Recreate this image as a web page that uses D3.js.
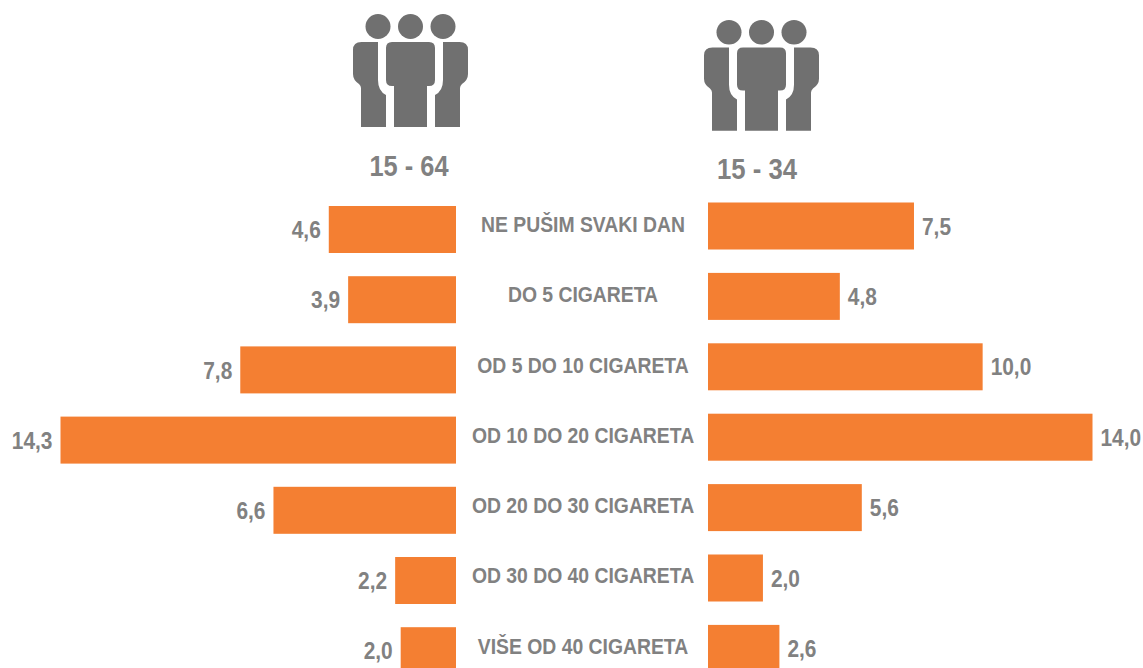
<!DOCTYPE html>
<html>
<head>
<meta charset="utf-8">
<script src="https://cdn.jsdelivr.net/npm/d3@7"></script>
<style>
html, body { margin: 0; padding: 0; background: #fff; overflow: hidden; }
text { font-family: "Liberation Sans", Arial, sans-serif; font-weight: bold; fill: #818181; }
</style>
</head>
<body>
<div id="chart"></div>
<script>
var categories = ['NE PUŠIM SVAKI DAN', 'DO 5 CIGARETA', 'OD 5 DO 10 CIGARETA', 'OD 10 DO 20 CIGARETA',
    'OD 20 DO 30 CIGARETA', 'OD 30 DO 40 CIGARETA', 'VIŠE OD 40 CIGARETA'];
var older = [4.6, 3.9, 7.8, 14.3, 6.6, 2.2, 2.0];
var younger = [7.5, 4.8, 10.0, 14.0, 5.6, 2.0, 2.6];
var olderTitle = '15 - 64';
var youngerTitle = '15 - 34';

var width = 1143, height = 668;
var orange = '#f47f32', iconGrey = '#707070';
var barH = 47;

var svg = d3.select('#chart').append('svg')
    .attr('width', width)
    .attr('height', height)
    .style('display', 'block');

var fmt = function(v) { return v.toFixed(1).replace('.', ','); };

function bandFrom(top, step) {
    var pad = 1 - barH / step;
    return d3.scaleBand().domain(categories)
        .range([top, top + step * (categories.length - pad)])
        .paddingInner(pad).paddingOuter(0).align(0);
}

var leftX = d3.scaleLinear().domain([0, 14.3]).range([456, 60.5]);
var rightX = d3.scaleLinear().domain([0, 14]).range([708, 1092.5]);
var leftY = bandFrom(206, 70.2);
var rightY = bandFrom(202.5, 70.4);
var labelY = d3.scalePoint().domain(categories).range([224, 645.5]);

// one bar column plus its value labels
function drawSide(values, x, y, isLeft) {
    var g = svg.append('g');
    g.selectAll('rect').data(values).enter().append('rect')
        .attr('x', function(d) { return isLeft ? x(d) : x(0); })
        .attr('y', function(d, i) { return y(categories[i]); })
        .attr('width', function(d) { return Math.abs(x(d) - x(0)); })
        .attr('height', y.bandwidth())
        .attr('fill', orange);
    g.selectAll('text').data(values).enter().append('text')
        .attr('x', function(d) { return isLeft ? x(d) - 8 : x(d) + 8; })
        .attr('y', function(d, i) { return y(categories[i]) + y.bandwidth() / 2; })
        .attr('dy', '0.36em')
        .attr('text-anchor', isLeft ? 'end' : 'start')
        .attr('font-size', 24)
        .attr('lengthAdjust', 'spacingAndGlyphs')
        .text(fmt)
        .attr('textLength', function() { return this.getComputedTextLength() * 0.87; });
}

drawSide(older, leftX, leftY, true);
drawSide(younger, rightX, rightY, false);

svg.append('g').selectAll('text').data(categories).enter().append('text')
    .attr('x', 583)
    .attr('y', function(d) { return labelY(d); })
    .attr('dy', '0.36em')
    .attr('text-anchor', 'middle')
    .attr('font-size', 22.5)
    .attr('lengthAdjust', 'spacingAndGlyphs')
    .text(function(d) { return d; })
    .attr('textLength', function() { return this.getComputedTextLength() * 0.86; });

// three people, drawn around the middle of the icon
var bodyMid = 'M-18.5,42 H18.5 Q24.5,42 24.5,48 V80 Q24.5,86 18.5,86 H16.5 V127 H-16.5 V86 H-18.5 Q-24.5,86 -24.5,80 V48 Q-24.5,42 -18.5,42 Z';
var bodyLeft = 'M-57.5,50 Q-57.5,42 -49,42 H-32.5 V80 Q-32.5,91 -24.5,95 V127 H-49.5 V88 Q-49.5,86 -51.5,84 Q-57.5,80 -57.5,74 Z';
var bodyRight = 'M57.5,50 Q57.5,42 49,42 H32.5 V80 Q32.5,91 24.5,95 V127 H49.5 V88 Q49.5,86 51.5,84 Q57.5,80 57.5,74 Z';
function drawPeople(cx, top, stretch) {
    var g = svg.append('g').attr('transform', 'translate(' + cx + ',' + top + ') scale(1,' + stretch + ')');
    g.selectAll('circle').data([-32.5, 0, 32.5]).enter().append('circle')
        .attr('cx', function(d) { return d; })
        .attr('cy', 12.5)
        .attr('r', 12.5)
        .attr('fill', iconGrey);
    g.selectAll('path').data([bodyLeft, bodyRight, bodyMid]).enter().append('path')
        .attr('d', function(d) { return d; })
        .attr('transform', 'translate(0,-14)')
        .attr('fill', iconGrey);
}
drawPeople(410.5, 14, 1.0);
drawPeople(761.5, 20, 0.98);

svg.append('text').attr('x', 409).attr('y', 166).attr('dy', '0.36em')
    .attr('text-anchor', 'middle').attr('font-size', 29)
    .attr('textLength', 79).attr('lengthAdjust', 'spacingAndGlyphs').text(olderTitle);
svg.append('text').attr('x', 757).attr('y', 169).attr('dy', '0.36em')
    .attr('text-anchor', 'middle').attr('font-size', 29)
    .attr('textLength', 80).attr('lengthAdjust', 'spacingAndGlyphs').text(youngerTitle);
</script>
</body>
</html>
